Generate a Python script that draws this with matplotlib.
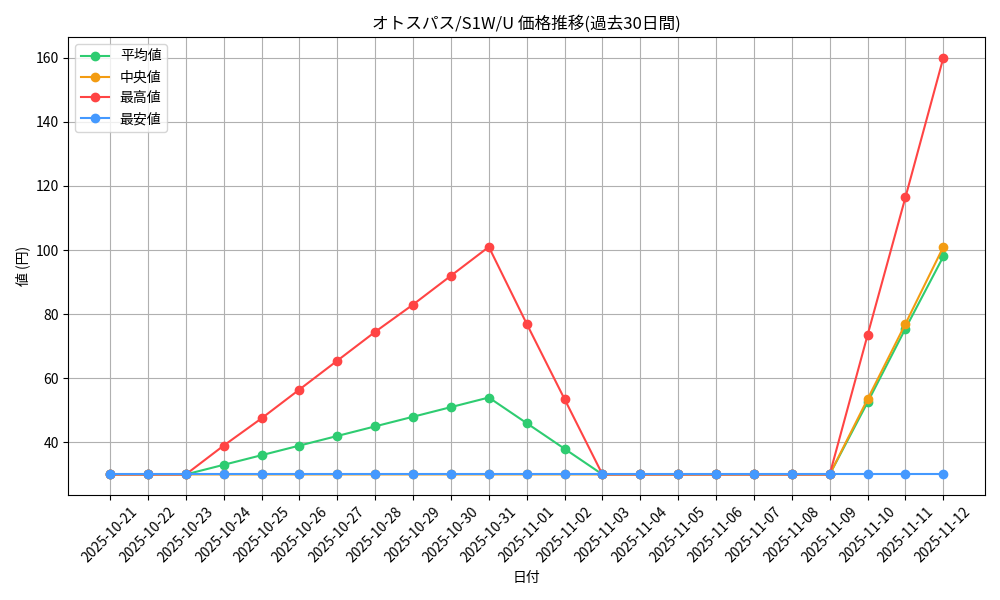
import matplotlib
matplotlib.use('Agg')
import matplotlib.pyplot as plt

plt.rcParams['font.family'] = ['Noto Sans CJK JP', 'DejaVu Sans']

dates = ['2025-10-21', '2025-10-22', '2025-10-23', '2025-10-24', '2025-10-25', '2025-10-26',
         '2025-10-27', '2025-10-28', '2025-10-29', '2025-10-30', '2025-10-31', '2025-11-01',
         '2025-11-02', '2025-11-03', '2025-11-04', '2025-11-05', '2025-11-06', '2025-11-07',
         '2025-11-08', '2025-11-09', '2025-11-10', '2025-11-11', '2025-11-12']
mean_vals = [30, 30, 30, 33, 36, 39, 42, 45, 48, 51, 54, 46, 38, 30, 30, 30, 30, 30, 30, 30, 52.5, 75.5, 98]
median_vals = [30, 30, 30, 30, 30, 30, 30, 30, 30, 30, 30, 30, 30, 30, 30, 30, 30, 30, 30, 30, 53.5, 77, 101]
max_vals = [30, 30, 30, 39, 47.5, 56.5, 65.5, 74.5, 83, 92, 101, 77, 53.5, 30, 30, 30, 30, 30, 30, 30, 73.5, 116.5, 160]
min_vals = [30] * 23

fig, ax = plt.subplots(figsize=(10, 6), dpi=100)
x = range(len(dates))
ax.plot(x, mean_vals, marker='o', color='#2ecc71', label='平均値')
ax.plot(x, median_vals, marker='o', color='#f39c12', label='中央値')
ax.plot(x, max_vals, marker='o', color='#ff4444', label='最高値')
ax.plot(x, min_vals, marker='o', color='#4499ff', label='最安値')

ax.set_xticks(list(x))
ax.set_xticklabels(dates, rotation=45)
ax.set_title('オトスパス/S1W/U 価格推移(過去30日間)')
ax.set_xlabel('日付')
ax.set_ylabel('値 (円)')
ax.grid(True)
ax.legend(loc='upper left')
fig.tight_layout()
plt.savefig('out.png')
